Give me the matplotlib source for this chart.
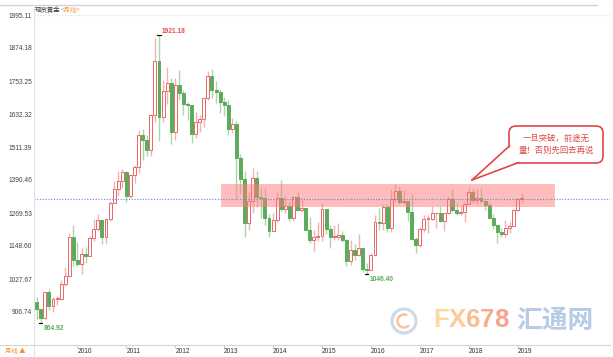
# 现货黄金 月线 K线图 (2009.03 - 2019.02)
import numpy as np
import pandas as pd
import matplotlib
matplotlib.use('Agg')
import matplotlib.pyplot as plt
from matplotlib.patches import Rectangle, FancyBboxPatch, Polygon, Circle, Arc
from matplotlib.lines import Line2D
from matplotlib.transforms import Affine2D

plt.rcParams['font.family'] = ['Liberation Sans', 'Noto Sans CJK SC', 'DejaVu Sans']

# 数据：月线 OHLC
months = pd.period_range('2009-03', periods=120, freq='M')

opens = [942, 916, 883, 979, 927, 954, 955, 1008, 1040, 1182,
         1097, 1081, 1118, 1113, 1179, 1212, 1244, 1181, 1248, 1308, 1359, 1386,
         1421, 1332, 1409, 1439, 1556, 1536, 1500, 1628, 1826, 1620, 1715, 1746,
         1565, 1738, 1710, 1669, 1664, 1560, 1604, 1614, 1691, 1773, 1719, 1712,
         1675, 1664, 1578, 1595, 1472, 1393, 1234, 1312, 1396, 1327, 1323, 1253,
         1202, 1244, 1326, 1284, 1295, 1250, 1327, 1282, 1287, 1208, 1171, 1182,
         1184, 1283, 1212, 1183, 1183, 1190, 1171, 1095, 1134, 1115, 1142, 1065,
         1061, 1116, 1238, 1232, 1292, 1214, 1321, 1350, 1309, 1315, 1274, 1173,
         1151, 1210, 1248, 1249, 1268, 1268, 1241, 1269, 1321, 1280, 1271, 1275,
         1303, 1345, 1318, 1325, 1315, 1298, 1253, 1224, 1201, 1192, 1215, 1222,
         1282, 1321]
highs = [962, 919, 981, 990, 960, 966, 1025, 1071, 1195, 1227,
         1162, 1142, 1144, 1185, 1249, 1265, 1245, 1253, 1315, 1388, 1424, 1431,
         1424, 1411, 1447, 1575, 1577, 1556, 1632, 1911, 1921.18, 1756, 1803, 1764,
         1763, 1792, 1720, 1676, 1666, 1641, 1630, 1692, 1790, 1796, 1755, 1723,
         1695, 1685, 1616, 1605, 1487, 1424, 1348, 1434, 1424, 1361, 1362, 1267,
         1270, 1345, 1392, 1331, 1315, 1332, 1345, 1322, 1287, 1255, 1208, 1238,
         1307, 1284, 1224, 1224, 1232, 1205, 1175, 1170, 1157, 1191, 1143, 1088,
         1123, 1263, 1287, 1304, 1303, 1358, 1375, 1367, 1352, 1317, 1338, 1180,
         1220, 1264, 1261, 1295, 1271, 1296, 1270, 1331, 1357, 1306, 1299, 1309,
         1366, 1362, 1356, 1366, 1318, 1310, 1266, 1228, 1214, 1243, 1237, 1284,
         1326, 1341]
lows = [880, 864.92, 880, 913, 905, 932, 950, 1001, 1035, 1075,
        1075, 1045, 1088, 1112, 1166, 1203, 1155, 1157, 1240, 1308, 1330, 1360,
        1309, 1323, 1381, 1417, 1462, 1478, 1478, 1602, 1532, 1602, 1670, 1523,
        1537, 1689, 1627, 1612, 1527, 1546, 1565, 1583, 1685, 1692, 1672, 1635,
        1626, 1555, 1562, 1321, 1338, 1180, 1207, 1271, 1292, 1251, 1227, 1182,
        1202, 1238, 1277, 1268, 1240, 1240, 1281, 1273, 1207, 1161, 1131, 1167,
        1167, 1191, 1142, 1169, 1170, 1162, 1077, 1080, 1098, 1111, 1052, 1046.40,
        1071, 1111, 1208, 1208, 1200, 1199, 1310, 1301, 1302, 1241, 1171, 1122,
        1146, 1200, 1195, 1243, 1214, 1236, 1205, 1265, 1272, 1261, 1264, 1236,
        1302, 1307, 1303, 1310, 1282, 1246, 1211, 1160, 1180, 1183, 1196, 1221,
        1276, 1310]
closes = [916, 883, 979, 927, 954, 955, 1008, 1040, 1182, 1097,
          1081, 1118, 1113, 1179, 1212, 1244, 1181, 1248, 1308, 1359, 1386, 1421,
          1332, 1409, 1439, 1556, 1536, 1500, 1628, 1826, 1620, 1715, 1746, 1565,
          1738, 1710, 1669, 1664, 1560, 1604, 1614, 1691, 1773, 1719, 1712, 1675,
          1664, 1578, 1595, 1472, 1393, 1234, 1312, 1396, 1327, 1323, 1253, 1202,
          1244, 1326, 1284, 1295, 1250, 1327, 1282, 1287, 1208, 1171, 1182, 1184,
          1283, 1212, 1183, 1183, 1190, 1171, 1095, 1134, 1115, 1142, 1065, 1061,
          1116, 1238, 1232, 1292, 1214, 1321, 1350, 1309, 1315, 1274, 1173, 1151,
          1210, 1248, 1249, 1268, 1268, 1241, 1269, 1321, 1280, 1271, 1275, 1303,
          1345, 1318, 1325, 1315, 1298, 1253, 1224, 1201, 1192, 1215, 1222, 1282,
          1321, 1322]

yticks = [906.74, 1027.67, 1148.60, 1269.53, 1390.46, 1511.39,
          1632.32, 1753.25, 1874.18, 1995.11]
marked_lows = [864.92, 1046.40]
zone = (1290.4, 1374.7)  # 阻力区
note = '一旦突破，前途无\n量！否则先回去再说'

# 画图
W, H = 613, 357
fig = plt.figure(figsize=(W / 100, H / 100), dpi=100)
px = Affine2D().scale(1 / 100, -1 / 100).translate(0, H / 100) + fig.dpi_scale_trans

ax = fig.add_axes([34 / W, 12 / H, 576 / W, 330 / H])

o = np.array(opens, float)
h = np.array(highs, float)
l = np.array(lows, float)
c = np.array(closes, float)
x = np.arange(len(o))
up = c >= o

red, red_w = '#e86868', '#f2b2b2'
green, green_w = '#5cab5c', '#acd6ac'

ax.vlines(x, l, h, colors=np.where(up, red_w, green_w), lw=1, zorder=2)
body_bottom = np.minimum(o, c)
body_h = np.maximum(np.abs(c - o), 2.5)
ax.bar(x, body_h, bottom=body_bottom, width=0.72,
       color=np.where(up, 'white', green), edgecolor=np.where(up, red, green),
       linewidth=0.7, zorder=2.5)

# 阻力区 + 现价虚线
ax.add_patch(Rectangle((45.1, zone[0]), 82.1, zone[1] - zone[0],
                       fc='#ff7b7b', alpha=0.5, ec='none', zorder=3))
ax.axhline(c[-1], color='#5b8ee0', ls=(0, (1, 1.5)), lw=0.8, zorder=4)

# 高低点标注
i_hi = int(np.argmax(h))
ax.plot([i_hi - 0.5, i_hi + 0.4], [h[i_hi]] * 2, color='k', lw=0.8, zorder=5)
ax.annotate(f'{h[i_hi]:.2f}', xy=(i_hi, h[i_hi]), xytext=(2.2, 0.3),
            textcoords='offset points', ha='left', va='bottom',
            fontsize=4.8, color='#e05050', fontweight='bold', zorder=5)
for v in marked_lows:
    i = lows.index(v)
    ax.plot([i - 0.5, i + 0.4], [v, v], color='k', lw=0.8, zorder=5)
    ax.annotate(f'{v:.2f}', xy=(i, v), xytext=(1.8, -1.2),
                textcoords='offset points', ha='left', va='top',
                fontsize=4.8, color='#5aab5a', fontweight='bold', zorder=5)

ax.set_xlim(-0.66, 140.65)
ax.set_ylim(785.81, 1995.11)
for s in ax.spines.values():
    s.set_visible(False)
ax.set_yticks(yticks)
ax.set_yticklabels([f'{v:.2f}' for v in yticks])
ax.tick_params(axis='y', length=0, pad=1.5, labelsize=4.8, labelcolor='#444')
jan = [i for i, m in enumerate(months) if m.month == 1]
ax.set_xticks(jan)
ax.set_xticklabels([str(months[i].year) for i in jan])
ax.tick_params(axis='x', length=2, width=0.6, color='#bbbbbb', pad=0.5,
               labelsize=4.8, labelcolor='#333')
for t in ax.get_xticklabels():
    t.set_ha('left')

# 边框线
fig.add_artist(Line2D([0, 597], [5, 5], transform=px, color='#cfd3d8', lw=1))
fig.add_artist(Line2D([34, 34], [5, 357], transform=px, color='#e3e3e3', lw=0.8))
fig.add_artist(Line2D([0, 610], [345, 345], transform=px, color='#d5d5d5', lw=0.8))
fig.add_artist(Line2D([34, 610], [15, 15], transform=px, color='#dddddd', lw=0.8,
                      ls=(0, (1, 1.5))))

cjk = ['Noto Sans CJK SC', 'DejaVu Sans']
fig.text(35, 10, '现货黄金', transform=px, fontsize=4.6, color='#333',
         va='center', ha='left', family=cjk)
fig.text(60.5, 10, '<月线>', transform=px, fontsize=4.6, color='#f29b30',
         va='center', ha='left', family=cjk)
fig.text(5, 351.5, '月线 ▲', transform=px, fontsize=4.6, color='#f0902a',
         va='center', ha='left', family=cjk)

# 对话框
fig.add_artist(FancyBboxPatch((509, 126), 94, 37, boxstyle='round,pad=0,rounding_size=7',
                              transform=px, fc='white', ec='#e04848', lw=1.2, zorder=10))
fig.add_artist(Polygon([(510.6, 146.3), (518.3, 161.6), (472, 180)], closed=True,
                       transform=px, fc='white', ec='none', zorder=11))
fig.add_artist(Line2D([509.4, 472], [146, 180], transform=px, color='#e04848', lw=1.2, zorder=12))
fig.add_artist(Line2D([518.5, 472], [162.6, 180], transform=px, color='#e04848', lw=1.2, zorder=12))
fig.text(556, 144.5, note, transform=px, ha='center', va='center', fontsize=6,
         color='#e04848', linespacing=1.5, zorder=13, family=cjk)

# 水印
fig.add_artist(Circle((404, 321), 12, transform=px, fill=False, ec='#cdd9e8', lw=2.2, zorder=1))
fig.add_artist(Arc((404, 321), 13, 13, theta1=40, theta2=300, transform=px,
                   color='#f8c49c', lw=1.8, zorder=1))
wm_colors = ['#fcd9a2', '#fccb96', '#fbbd8e', '#f9ad88', '#f8a48c']
wm_left = [433, 448.7, 465.8, 480.1, 494.4]
for k, ch in enumerate('FX678'):
    fig.text(wm_left[k], 320, ch, transform=px, ha='left', va='center',
             fontsize=18.5, fontweight='bold', color=wm_colors[k])
fig.text(555, 320, '汇通网', transform=px, ha='center', va='center', fontsize=18.5,
         fontweight='bold', color='#b5cbe6', family=cjk)

fig.savefig('out.png', dpi=100)
